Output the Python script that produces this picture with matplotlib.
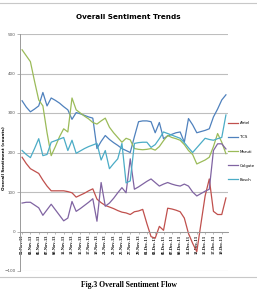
import numpy as np
import pandas as pd
import matplotlib
matplotlib.use('Agg')
import matplotlib.pyplot as plt
from matplotlib.lines import Line2D

# daily sentiment counts, 01-Nov-13 .. 20-Dec-13
days = pd.date_range('2013-11-01', periods=50)
tick_labels = [d.strftime('%d-%b-%y') for d in days[::2]]

airtel = [188, 172, 159, 153, 147, 130, 115, 103, 103, 103,
          103, 101, 98, 87, 92, 97, 103, 108, 82, 73,
          66, 62, 58, 53, 49, 47, 43, 50, 52, 56,
          20, -13, -17, 13, 3, 59, 57, 54, 50, 34,
          -5, -30, -51, 20, 90, 133, 51, 43, 43, 85]
tcs = [331, 315, 303, 310, 318, 352, 318, 338, 332, 325,
       316, 308, 284, 301, 298, 294, 290, 287, 210, 228,
       243, 233, 225, 218, 210, 205, 200, 240, 278, 280,
       280, 278, 250, 276, 235, 242, 246, 250, 252, 226,
       286, 270, 250, 253, 256, 260, 290, 310, 333, 346]
maruti = [460, 445, 430, 380, 333, 318, 250, 192, 215, 240,
          260, 252, 338, 308, 300, 292, 285, 276, 272, 280,
          287, 264, 250, 238, 226, 236, 232, 210, 208, 207,
          208, 210, 206, 215, 230, 243, 238, 235, 231, 220,
          205, 195, 171, 176, 181, 188, 215, 248, 226, 197]
colgate = [72, 74, 74, 67, 60, 41, 55, 69, 55, 41,
           27, 34, 76, 51, 58, 66, 74, 83, 26, 124,
           64, 72, 84, 98, 111, 98, 184, 107, 113, 120,
           127, 133, 124, 115, 120, 124, 120, 117, 115, 120,
           115, 100, 90, 96, 102, 107, 205, 222, 222, 209]
bosch = [205, 195, 187, 210, 235, 192, 195, 226, 230, 234,
         238, 205, 231, 198, 204, 210, 215, 219, 223, 181,
         205, 159, 172, 184, 223, 123, 128, 223, 225, 226,
         226, 213, 220, 235, 252, 248, 244, 240, 236, 225,
         212, 200, 212, 224, 236, 233, 231, 235, 238, 295]

series = [('Airtel', airtel, '#C0504D'),
          ('TCS', tcs, '#4F81BD'),
          ('Maruti', maruti, '#9BBB59'),
          ('Colgate', colgate, '#8064A2'),
          ('Bosch', bosch, '#4BACC6')]

W, H = 257, 292
fig = plt.figure(figsize=(W / 100, H / 100), dpi=100)
ax = fig.add_axes([20 / W, 1 - 271 / H, 208 / W, 237 / H])

x = np.arange(len(days))
for name, vals, col in series:
    ax.plot(x, vals, color=col, lw=0.9, label=name)

ax.set_xlim(-0.5, len(days) - 0.5)
ax.set_ylim(-100, 500)
ax.set_yticks(range(-100, 501, 100))
ax.grid(axis='y', color='#BEBEBE', lw=0.8)
ax.set_axisbelow(True)
for s in ['top', 'right']:
    ax.spines[s].set_visible(False)
ax.spines['left'].set_color('#9A9A9A')
ax.spines['left'].set_linewidth(0.7)
ax.spines['bottom'].set_position(('data', 0))
ax.spines['bottom'].set_color('#9A9A9A')
ax.spines['bottom'].set_linewidth(0.7)
ax.tick_params(axis='y', length=2, width=0.5, color='#9A9A9A',
               labelsize=3, labelcolor='#555555', pad=1)
ax.set_xticks(x[::2])
ax.set_xticklabels(tick_labels, rotation=90, fontsize=3.2,
                   fontweight='bold', family='Liberation Serif')
ax.tick_params(axis='x', length=1.5, width=0.5, color='#9A9A9A', pad=1)

ax.legend(loc='upper left', bbox_to_anchor=(0.99, 1 - (119 - 34) / 237),
          frameon=False, fontsize=2.8, handlelength=2.4, handletextpad=0.5,
          labelspacing=2.6, borderaxespad=0.2)

fig.text(0.5, 1 - 17 / H, 'Overall Sentiment Trends', ha='center', va='center',
         fontsize=5.2, fontweight='bold',
         family=['Liberation Sans Narrow', 'DejaVu Sans'])
fig.text(4 / W, 1 - 158 / H, 'Overall Sentiment (counts)', rotation=90,
         ha='center', va='center', fontsize=3, fontweight='bold')
fig.text(0.5, 1 - 285 / H, 'Fig.3 Overall Sentiment Flow', ha='center',
         va='center', fontsize=5.5, fontweight='bold', family='Liberation Serif')

fig.add_artist(Line2D([0, 1], [1 - 3 / H, 1 - 3 / H], color='#C8C8C8', lw=0.8))
fig.add_artist(Line2D([0, 1], [1 - 277 / H, 1 - 277 / H], color='#C8C8C8', lw=0.8))

fig.savefig('out.png', dpi=100)
